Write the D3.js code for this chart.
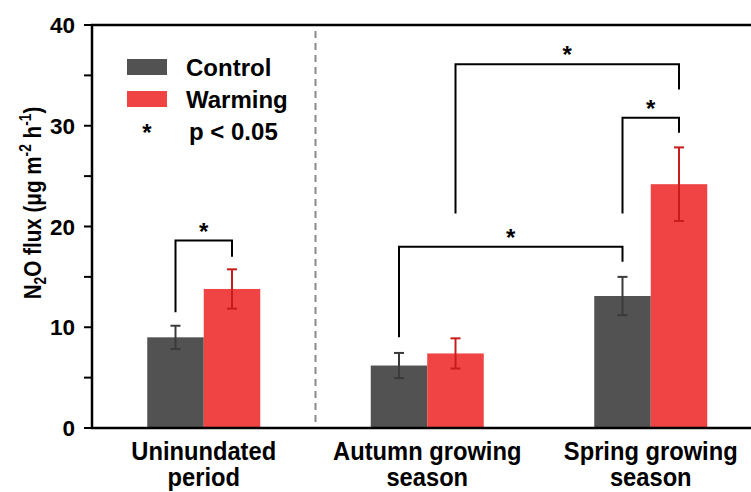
<!DOCTYPE html>
<html>
<head>
<meta charset="utf-8">
<script src="https://cdn.jsdelivr.net/npm/d3@7"></script>
<style>
  body { margin: 0; background: #fff; }
  svg { display: block; font-family: "Liberation Sans", Arial, sans-serif; font-weight: bold; }
</style>
</head>
<body>
<div class="myBox"></div>
<script>
// data
var categories = ["Uninundated period", "Autumn growing season", "Spring growing season"];
var catLines = [["Uninundated", "period"], ["Autumn growing", "season"], ["Spring growing", "season"]];
var series = ["Control", "Warming"];
var controlMean = [9.0, 6.2, 13.1];
var controlErr  = [1.15, 1.25, 1.9];
var warmingMean = [13.8, 7.4, 24.2];
var warmingErr  = [1.95, 1.5, 3.65];
var yTicks = [0, 10, 20, 30, 40];
var yMinor = [5, 15, 25, 35];
// significance brackets: [cat, series] ends, top value, left/right leg ends
var brackets = [
  { a: [0, 0], b: [0, 1], top: 18.6, la: 11.5, lb: 17.0 },
  { a: [1, 0], b: [2, 0], top: 18.0, la: 9.0,  lb: 16.5 },
  { a: [2, 0], b: [2, 1], top: 30.8, la: 21.3, lb: 29.3 },
  { a: [1, 1], b: [2, 1], top: 36.1, la: 21.3, lb: 33.6 }
];

var colors = { Control: "#525252", Warming: "#f04343" };
var errColors = { Control: "#3a3a3a", Warming: "#c81c1c" };

var width = 751, height = 492;
var svg = d3.select(".myBox").append("svg")
  .attr("width", width)
  .attr("height", height);

var mLeft = 92, mTop = 25, mBottom = 428;

var x0 = d3.scaleBand().domain(categories).range([mLeft, mLeft + 3 * 223.5]);
var x1 = d3.scaleBand().domain(series)
  .range([x0.bandwidth() / 2 - 56.5, x0.bandwidth() / 2 + 56.5]);
var y = d3.scaleLinear().domain([0, 40]).range([mBottom, mTop]);

var rows = categories.map(function(c, i) {
  return [
    { cat: c, s: "Control", v: controlMean[i], e: controlErr[i] },
    { cat: c, s: "Warming", v: warmingMean[i], e: warmingErr[i] }
  ];
});
var flat = [].concat.apply([], rows);

function cx(ci, si) { return x0(categories[ci]) + x1(series[si]) + x1.bandwidth() / 2; }

// dashed separator
svg.append("line")
  .attr("x1", x0(categories[1])).attr("x2", x0(categories[1]))
  .attr("y1", mTop + 6).attr("y2", mBottom)
  .attr("stroke", "#8a8a8a").attr("stroke-width", 2)
  .attr("stroke-dasharray", "7,5");

// bars
svg.selectAll("rect.bar").data(flat).enter().append("rect")
  .attr("class", "bar")
  .attr("x", function(d) { return x0(d.cat) + x1(d.s); })
  .attr("width", x1.bandwidth())
  .attr("y", function(d) { return y(d.v); })
  .attr("height", function(d) { return y(0) - y(d.v); })
  .attr("fill", function(d) { return colors[d.s]; });

// error bars
var eb = svg.selectAll("g.err").data(flat).enter().append("g")
  .attr("stroke", function(d) { return errColors[d.s]; })
  .attr("stroke-width", 2);
eb.append("line")
  .attr("x1", function(d) { return x0(d.cat) + x1(d.s) + x1.bandwidth() / 2; })
  .attr("x2", function(d) { return x0(d.cat) + x1(d.s) + x1.bandwidth() / 2; })
  .attr("y1", function(d) { return y(d.v - d.e); })
  .attr("y2", function(d) { return y(d.v + d.e); });
[-1, 1].forEach(function(sgn) {
  eb.append("line")
    .attr("x1", function(d) { return x0(d.cat) + x1(d.s) + x1.bandwidth() / 2 - 5; })
    .attr("x2", function(d) { return x0(d.cat) + x1(d.s) + x1.bandwidth() / 2 + 5; })
    .attr("y1", function(d) { return y(d.v + sgn * d.e); })
    .attr("y2", function(d) { return y(d.v + sgn * d.e); });
});

// brackets
brackets.forEach(function(b) {
  var xa = cx(b.a[0], b.a[1]), xb = cx(b.b[0], b.b[1]);
  svg.append("path")
    .attr("d", "M" + xa + "," + y(b.la) + "V" + y(b.top) + "H" + xb + "V" + y(b.lb))
    .attr("fill", "none").attr("stroke", "#000").attr("stroke-width", 2);
  svg.append("text")
    .attr("x", (xa + xb) / 2).attr("y", y(b.top) - 1)
    .attr("text-anchor", "middle").attr("font-size", 24)
    .text("*");
});

// axes
var yAxis = svg.append("g").attr("transform", "translate(" + mLeft + ",0)");
yAxis.append("line").attr("x1", 0).attr("x2", 0).attr("y1", mTop).attr("y2", mBottom)
  .attr("stroke", "#000").attr("stroke-width", 2.5);
yAxis.selectAll("line.tk").data(yTicks.concat(yMinor)).enter().append("line")
  .attr("class", "tk")
  .attr("x1", -8).attr("x2", 0)
  .attr("y1", function(d) { return y(d); }).attr("y2", function(d) { return y(d); })
  .attr("stroke", "#000").attr("stroke-width", 2);
yAxis.selectAll("text").data(yTicks).enter().append("text")
  .attr("x", -17).attr("y", function(d) { return y(d); })
  .attr("dy", "0.36em").attr("text-anchor", "end").attr("font-size", 22.5)
  .text(function(d) { return d; });

svg.append("line").attr("x1", mLeft - 1).attr("x2", width).attr("y1", mBottom).attr("y2", mBottom)
  .attr("stroke", "#000").attr("stroke-width", 2.5);
svg.append("line").attr("x1", mLeft - 1).attr("x2", width).attr("y1", mTop).attr("y2", mTop)
  .attr("stroke", "#000").attr("stroke-width", 2.5);

// category labels (a little condensed, like the original)
svg.selectAll("text.cat").data(categories).enter().append("text")
  .attr("class", "cat")
  .attr("transform", function(d) { return "translate(" + (x0(d) + x0.bandwidth() / 2) + ",0) scale(0.93,1)"; })
  .attr("text-anchor", "middle").attr("font-size", 25.5)
  .each(function(d, i) {
    var t = d3.select(this);
    catLines[i].forEach(function(line, k) {
      t.append("tspan")
        .attr("x", 0)
        .attr("y", 460.5 + k * 25.5)
        .text(line);
    });
  });

// y title
var yt = svg.append("text")
  .attr("transform", "translate(41,203) rotate(-90) scale(0.86,1)")
  .attr("text-anchor", "middle").attr("font-size", 24);
yt.append("tspan").text("N");
yt.append("tspan").attr("font-size", 16).attr("dy", 5).text("2");
yt.append("tspan").attr("dy", -5).text("O flux (μg m");
yt.append("tspan").attr("font-size", 16).attr("dy", -10).text("-2");
yt.append("tspan").attr("dy", 10).text(" h");
yt.append("tspan").attr("font-size", 16).attr("dy", -10).text("-1");
yt.append("tspan").attr("dy", 10).text(")");

// legend
var legY = [59, 91];
series.forEach(function(s, i) {
  svg.append("rect").attr("x", 127).attr("y", legY[i]).attr("width", 40).attr("height", 16)
    .attr("fill", colors[s]);
  svg.append("text").attr("x", 186).attr("y", legY[i] + 17).attr("font-size", 24).text(s);
});
svg.append("text").attr("x", 147).attr("y", 141).attr("text-anchor", "middle")
  .attr("font-size", 24).text("*");
svg.append("text").attr("x", 189).attr("y", 140).attr("font-size", 24).text("p < 0.05");
</script>
</body>
</html>
